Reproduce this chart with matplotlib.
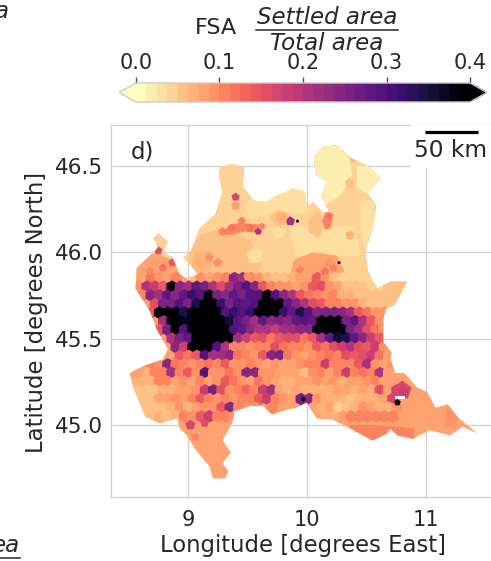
import numpy as np
import matplotlib
matplotlib.use("Agg")
import matplotlib.pyplot as plt
from matplotlib.collections import PolyCollection
from matplotlib.colors import Normalize
from matplotlib.lines import Line2D
from matplotlib.patches import Polygon, Rectangle

# region outline, lon / lat
outline_lon = [9.27, 9.37, 9.47, 9.46, 9.55, 9.66, 9.75, 9.80, 9.88, 9.98, 10.00, 10.05, 10.13, 10.19, 10.12,
               10.17, 10.07, 10.06, 10.13, 10.25, 10.36, 10.53, 10.62, 10.51, 10.58, 10.55, 10.49, 10.51, 10.59,
               10.70, 10.84, 10.74, 10.66, 10.64, 10.64, 10.71, 10.70, 10.74, 10.82, 10.92, 11.01, 11.08, 11.18,
               11.26, 11.43, 11.31, 11.20, 11.03, 10.89, 10.76, 10.70, 10.67, 10.55, 10.39, 10.22, 10.08, 10.00,
               9.91, 9.83, 9.71, 9.63, 9.52, 9.39, 9.37, 9.29, 9.36, 9.29, 9.34, 9.31, 9.21, 9.18, 9.06, 8.99,
               8.93, 8.91, 8.76, 8.64, 8.54, 8.51, 8.62, 8.79, 8.83, 8.74, 8.68, 8.56, 8.57, 8.71, 8.75, 8.71,
               8.75, 8.83, 8.79, 8.87, 8.93, 8.99, 9.08, 9.02, 8.96, 9.02, 9.10, 9.23, 9.29, 9.26]
outline_lat = [46.49, 46.51, 46.49, 46.38, 46.30, 46.29, 46.33, 46.34, 46.37, 46.35, 46.26, 46.29, 46.23, 46.23, 46.33,
               46.41, 46.45, 46.55, 46.61, 46.62, 46.55, 46.49, 46.43, 46.34, 46.27, 46.14, 46.00, 45.89, 45.79,
               45.83, 45.83, 45.70, 45.67, 45.61, 45.48, 45.42, 45.38, 45.30, 45.30, 45.22, 45.19, 45.10, 45.12,
               45.05, 44.95, 44.99, 44.94, 44.97, 44.92, 44.94, 44.98, 44.95, 44.91, 44.97, 45.03, 45.04, 45.13,
               45.10, 45.09, 45.06, 45.11, 45.11, 45.08, 45.01, 44.91, 44.84, 44.78, 44.73, 44.69, 44.69, 44.76, 44.86, 44.94,
               44.98, 45.04, 45.01, 45.05, 45.22, 45.30, 45.34, 45.38, 45.44, 45.55, 45.66, 45.79, 45.91, 46.00, 46.03, 46.08,
               46.11, 46.06, 46.00, 45.97, 45.87, 45.85, 45.87, 45.93, 45.97, 46.00, 46.14, 46.22, 46.35, 46.45]
base_fsa = 0.082

# large uniform areas: fsa and (lon, lat) corners
zone_fsa = [0.045, 0.085, 0.058, 0.07, 0.025, 0.022, 0.022, 0.03, 0.035, 0.06, 0.055, 0.11, 0.085, 0.105, 0.095,
            0.055, 0.10]
zone_shapes = [
    [(8.4, 45.84), (10.9, 45.84), (10.9, 46.7), (8.4, 46.7)],
    [(8.5, 45.78), (8.5, 45.99), (8.75, 45.99), (8.96, 45.93), (9.0, 45.81)],
    [(9.02, 45.84), (9.0, 45.98), (9.10, 46.10), (9.31, 46.14), (9.52, 46.07), (9.62, 45.93), (9.52, 45.81)],
    [(9.03, 45.92), (9.06, 46.0), (9.17, 46.0), (9.2, 45.93), (9.12, 45.88)],
    [(9.48, 46.27), (9.54, 46.32), (9.86, 46.38), (10.01, 46.36), (10.01, 46.23), (9.87, 46.22), (9.77, 46.25),
     (9.67, 46.22), (9.52, 46.19)],
    [(10.03, 46.65), (10.29, 46.65), (10.36, 46.53), (10.38, 46.45), (10.28, 46.33), (10.15, 46.27), (10.09, 46.36),
     (10.03, 46.48)],
    [(10.42, 46.5), (10.66, 46.5), (10.66, 46.38), (10.52, 46.33), (10.42, 46.38)],
    [(10.45, 46.3), (10.55, 46.3), (10.58, 46.2), (10.55, 46.05), (10.48, 46.02), (10.45, 46.15)],
    [(9.85, 46.15), (10.4, 46.15), (10.45, 45.98), (9.9, 45.98)],
    [(9.69, 46.2), (9.75, 46.24), (9.86, 46.22), (9.86, 46.17), (9.75, 46.15)],
    [(10.01, 46.12), (10.02, 46.2), (10.1, 46.24), (10.14, 46.16), (10.1, 46.08)],
    [(10.13, 46.18), (10.16, 46.24), (10.22, 46.22), (10.2, 46.14), (10.15, 46.13)],
    [(9.85, 45.86), (9.9, 45.96), (10.05, 46.0), (10.25, 45.98), (10.32, 45.88), (10.2, 45.84)],
    [(10.35, 44.92), (10.36, 45.0), (10.55, 45.0), (10.75, 44.99), (10.9, 44.98), (10.9, 44.9), (10.55, 44.88)],
    [(11.16, 45.0), (11.17, 45.1), (11.22, 45.13), (11.27, 45.05), (11.25, 44.98)],
    [(10.6, 45.85), (10.85, 45.85), (10.72, 45.68), (10.62, 45.68)],
    [(9.27, 46.1), (9.35, 46.16), (9.45, 46.17), (9.6, 46.16), (9.62, 46.11), (9.48, 46.12), (9.35, 46.1)],
]

# fsa in percent on a lon / lat raster (0 = nothing to add)
cell_lon = [8.55, 8.62, 8.69, 8.76, 8.83, 8.90, 8.97, 9.04, 9.11, 9.18, 9.25, 9.32, 9.39, 9.46, 9.53, 9.60,
            9.67, 9.74, 9.81, 9.88, 9.95, 10.02, 10.09, 10.16, 10.23, 10.30, 10.37, 10.44, 10.51, 10.58, 10.65, 10.72]
cell_lat = [45.85, 45.80, 45.75, 45.70, 45.65, 45.60, 45.55, 45.50, 45.45, 45.40, 45.35, 45.30, 45.25, 45.20,
            45.15, 45.10, 45.05]
cell_pct = [
    [0, 8, 12, 9, 8, 10, 0, 0, 9, 8, 9, 10, 24, 22, 10, 9, 7, 6, 6, 7, 8, 8, 14, 9, 6, 4, 4, 4, 4, 3, 0, 0],
    [9, 20, 18, 14, 40, 24, 22, 28, 26, 20, 16, 22, 26, 30, 24, 14, 10, 9, 9, 8, 9, 14, 16, 9, 8, 5, 5, 5, 4, 4, 5, 5],
    [0, 10, 24, 22, 28, 24, 28, 32, 30, 40, 26, 24, 28, 26, 30, 30, 40, 30, 24, 20, 14, 12, 10, 9, 10, 7, 7, 5, 5, 6, 5, 5],
    [0, 0, 16, 26, 26, 30, 26, 34, 40, 42, 32, 26, 30, 28, 30, 42, 44, 40, 28, 24, 20, 16, 14, 10, 10, 9, 9, 7, 6, 6, 6, 5],
    [0, 0, 14, 40, 44, 42, 34, 40, 44, 44, 42, 30, 32, 30, 32, 40, 44, 42, 32, 28, 34, 30, 24, 26, 26, 24, 22, 14, 12, 9, 9, 0],
    [0, 0, 0, 22, 44, 46, 38, 44, 46, 46, 46, 36, 30, 26, 22, 28, 24, 26, 24, 28, 30, 28, 40, 44, 42, 26, 28, 20, 14, 9, 8, 0],
    [0, 0, 0, 14, 26, 42, 30, 44, 46, 46, 46, 44, 30, 28, 24, 20, 20, 18, 22, 22, 24, 24, 38, 44, 46, 38, 26, 22, 16, 12, 9, 0],
    [0, 0, 0, 0, 20, 26, 28, 42, 46, 46, 44, 42, 22, 18, 14, 16, 12, 14, 16, 16, 12, 14, 22, 28, 36, 34, 28, 24, 18, 14, 9, 0],
    [0, 0, 0, 0, 0, 24, 18, 40, 44, 42, 30, 20, 11, 11, 9, 11, 11, 16, 12, 10, 11, 9, 14, 12, 16, 18, 20, 16, 14, 18, 9, 0],
    [0, 0, 0, 0, 0, 14, 12, 14, 30, 22, 22, 24, 12, 10, 9, 14, 24, 26, 12, 9, 8, 9, 10, 12, 10, 16, 14, 16, 18, 12, 8, 0],
    [0, 0, 10, 9, 24, 12, 11, 9, 10, 12, 11, 14, 9, 9, 10, 9, 8, 9, 8, 8, 9, 10, 10, 18, 10, 10, 10, 14, 22, 9, 8, 9],
    [8, 7, 11, 11, 22, 11, 14, 9, 30, 9, 9, 12, 9, 24, 24, 9, 9, 8, 8, 8, 6, 9, 10, 8, 11, 18, 10, 12, 10, 20, 8, 8],
    [7, 7, 7, 10, 11, 8, 9, 8, 10, 8, 9, 14, 12, 9, 8, 12, 9, 8, 7, 7, 8, 8, 9, 8, 9, 7, 8, 8, 9, 10, 8, 8],
    [6, 6, 6, 7, 7, 8, 8, 9, 18, 26, 16, 9, 11, 13, 11, 18, 22, 8, 7, 8, 7, 7, 7, 7, 8, 8, 7, 8, 7, 16, 8, 18],
    [0, 6, 6, 8, 8, 9, 8, 11, 14, 10, 9, 10, 9, 11, 10, 14, 18, 11, 9, 8, 26, 24, 9, 7, 7, 7, 6, 7, 7, 7, 8, 17],
    [0, 6, 6, 6, 7, 9, 7, 8, 9, 9, 14, 24, 11, 9, 9, 0, 10, 0, 8, 0, 0, 8, 7, 8, 4, 6, 7, 9, 8, 7, 7, 9],
    [0, 5, 6, 7, 6, 7, 10, 9, 14, 18, 11, 10, 9, 0, 0, 0, 0, 0, 0, 0, 0, 0, 8, 7, 7, 8, 11, 11, 11, 11, 11, 11],
]

# single towns
town_lon = [9.40, 9.40, 8.75, 8.87, 8.68, 8.79, 9.29, 9.37, 9.45, 9.52, 9.59, 9.62, 9.86, 9.92, 9.79, 10.18, 10.16,
            10.27, 10.36, 10.18, 10.22, 10.15, 10.07, 9.94, 9.91, 9.18, 9.25, 9.50, 9.56, 9.76, 10.80, 10.81, 10.76,
            9.97, 9.02, 9.14, 9.06, 10.40, 10.36]
town_lat = [46.27, 46.32, 46.01, 45.94, 45.89, 45.91, 46.12, 46.14, 46.18, 46.14, 46.12, 46.15, 46.18, 46.18, 46.20,
            46.21, 46.18, 45.94, 46.10, 45.94, 45.91, 45.89, 45.84, 45.90, 45.93, 45.97, 45.94, 45.86, 45.98, 46.11,
            45.20, 45.19, 45.13, 45.15, 45.00, 45.01, 44.93, 46.55, 46.40]
town_fsa = [0.08, 0.17, 0.16, 0.14, 0.11, 0.12, 0.11, 0.12, 0.10, 0.12, 0.20, 0.10, 0.22, 0.40, 0.07, 0.12, 0.11,
            0.45, 0.07, 0.09, 0.11, 0.12, 0.15, 0.10, 0.08, 0.09, 0.09, 0.09, 0.03, 0.03, 0.17, 0.18, 0.38,
            0.45, 0.17, 0.16, 0.10, 0.07, 0.05]
town_area = [50, 40, 40, 40, 40, 40, 40, 40, 40, 40, 30, 30, 50, 6, 90, 40, 40,
             6, 50, 40, 40, 40, 40, 40, 40, 50, 50, 40, 150, 100, 200, 60, 25,
             14, 60, 40, 40, 50, 60]

# lakes left blank
lake_lon = [10.74, 10.82, 10.82, 10.74]
lake_lat = [45.15, 45.15, 45.165, 45.165]

lon_ticks = [9, 10, 11]
lat_ticks = [45.0, 45.5, 46.0, 46.5]
cbar_ticks = [0.0, 0.1, 0.2, 0.3, 0.4]

plt.rcParams["font.family"] = "DejaVu Sans"
plt.rcParams["text.color"] = ".15"
plt.rcParams["axes.labelcolor"] = ".15"
plt.rcParams["xtick.color"] = ".15"
plt.rcParams["ytick.color"] = ".15"

W, H = 491, 561
fig = plt.figure(figsize=(W / 100, H / 100), dpi=100)
ax = fig.add_axes([111 / W, 1 - 497 / H, 383 / W, 372 / H])

cmap = plt.get_cmap("magma_r", 32)
norm = Normalize(0, 0.4)

region = Polygon(np.column_stack([outline_lon, outline_lat]), closed=True,
                 facecolor=cmap(norm(base_fsa)), edgecolor="none", zorder=2)
ax.add_patch(region)

zones = PolyCollection(zone_shapes, array=np.array(zone_fsa), cmap=cmap, norm=norm,
                       edgecolor="none", zorder=3)
ax.add_collection(zones)
zones.set_clip_path(region)

lon_grid, lat_grid = np.meshgrid(cell_lon, cell_lat)
lon_grid = lon_grid + 0.035 * (np.arange(len(cell_lat)) % 2)[:, None]
pct = np.array(cell_pct, dtype=float)
keep = pct > 0
cells = ax.scatter(lon_grid[keep], lat_grid[keep], c=pct[keep] / 100, s=85, marker="h",
                   cmap=cmap, norm=norm, linewidths=0, zorder=4)
cells.set_clip_path(region)

towns = ax.scatter(town_lon, town_lat, c=town_fsa, s=town_area, marker="p",
                   cmap=cmap, norm=norm, linewidths=0, zorder=5)
towns.set_clip_path(region)

ax.fill(lake_lon, lake_lat, color="white", lw=0, zorder=6)

ax.set_xlim(8.353, 11.571)
ax.set_ylim(44.583, 46.737)
ax.set_xticks(lon_ticks)
ax.set_yticks(lat_ticks)
ax.set_yticklabels(["%.1f" % v for v in lat_ticks])
ax.tick_params(length=0, labelsize=15.5)
ax.tick_params(axis="x", labelsize=15, pad=9)
ax.tick_params(axis="y", pad=6)
ax.grid(color="#d2d2d2", lw=1)
ax.set_axisbelow(True)
for s in ax.spines.values():
    s.set_color("#d2d2d2")
    s.set_linewidth(1)
ax.set_xlabel("Longitude [degrees East]", fontsize=16.4, labelpad=3)
fig.text(37 / W, 1 - 312 / H, "Latitude [degrees North]", fontsize=16.4, rotation=90,
         ha="center", va="center")

ax.text(8.52, 46.58, "d)", fontsize=16.5, va="center", zorder=8)
ax.add_patch(Rectangle((10.87, 46.49), 0.8, 0.3, facecolor="white", edgecolor="none", zorder=7))
ax.plot([10.99, 11.44], [46.697, 46.697], color="black", lw=2.3, solid_capstyle="butt", zorder=8)
ax.text(11.21, 46.59, "50 km", fontsize=16.8, ha="center", va="center", zorder=8)

# colour bar on top, the axes holds the two end arrows as well
cax = fig.add_axes([119 / W, 1 - 102 / H, 368 / W, 19 / H])
cb = fig.colorbar(towns, cax=cax, orientation="horizontal", extend="both", extendfrac=17 / 335,
                  ticks=cbar_ticks, drawedges=False)
cax.xaxis.set_ticks_position("top")
cax.set_xticklabels(["%.1f" % v for v in cbar_ticks])
cax.tick_params(labelsize=15, length=4, width=1, pad=3, color=".3")
cb.outline.set_edgecolor("#cccccc")
cb.outline.set_linewidth(1)

fig.text(216 / W, 1 - 28 / H, "FSA", fontsize=16, ha="center", va="center")
fig.text(327 / W, 1 - 17 / H, "Settled area", fontsize=16.5, style="italic", ha="center", va="center")
fig.text(327 / W, 1 - 43 / H, "Total area", fontsize=16.5, style="italic", ha="center", va="center")
fig.add_artist(Line2D([256 / W, 398 / W], [1 - 30 / H, 1 - 30 / H], color=".15", lw=1.1))

# bits of the neighbouring panels
fig.text(8 / W, 1 - 12 / H, "a", fontsize=16.5, style="italic", ha="right", va="center")
fig.text(20 / W, 1 - 545 / H, "ea", fontsize=16.5, style="italic", ha="right", va="center")
fig.add_artist(Line2D([0, 20 / W], [1 - 558 / H, 1 - 558 / H], color=".15", lw=1.1))

fig.savefig("out.png", dpi=100)
